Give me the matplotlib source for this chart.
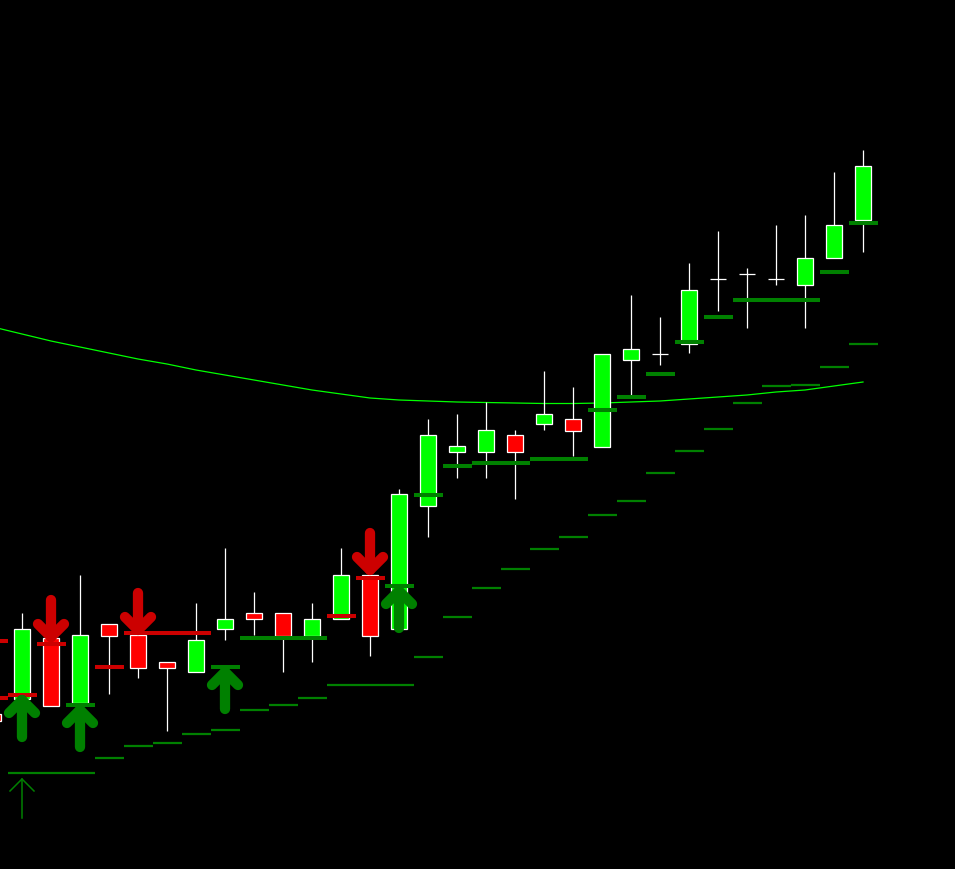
import matplotlib
matplotlib.use("Agg")
import matplotlib.pyplot as plt
from matplotlib.patches import Rectangle

# bar index -1 is the partly visible candle at the left edge
bars = list(range(-1, 30))
opens = [286, 301, 362, 297, 376, 365, 338, 328, 371, 387, 387, 364, 381, 425, 371,
         494, 548, 548, 565, 576, 581, 553, 640, 646, 656, 721, 726, 721, 715, 742, 780]
highs = [286, 387, 362, 425, 376, 365, 338, 397, 452, 408, 387, 397, 452, 425, 511,
         581, 586, 598, 570, 629, 613, 646, 705, 683, 737, 769, 732, 775, 785, 828, 850]
lows = [279, 301, 294, 297, 306, 322, 269, 328, 360, 365, 328, 338, 381, 344, 371,
        463, 522, 522, 501, 570, 544, 553, 605, 635, 647, 689, 672, 715, 672, 742, 748]
closes = [279, 371, 294, 365, 364, 332, 332, 360, 381, 381, 364, 381, 425, 364, 506,
          565, 554, 570, 548, 586, 569, 646, 651, 646, 710, 721, 726, 721, 742, 775, 834]

# moving average, one value per bar (starts one bar before the screen)
ma_bars = list(range(-2, 30))
ma_values = [679, 673, 666, 659, 653, 647, 641, 636, 630, 625, 620, 615, 610, 606, 602,
             600, 599, 598, 597.5, 597, 596.5, 596.5, 597, 598, 599, 601, 603, 605, 608,
             610, 614, 618]

# resistance (red) and support (green) levels
red_level_bars = [-1, -1, 0, 1, 3, 4, 5, 6, 11, 12]
red_level_values = [359, 302, 305, 356, 333, 367, 367, 367, 384, 422]
green_level_bars = [2, 7, 8, 9, 10, 13, 14, 15, 16, 17, 18, 19, 20, 21, 22, 23, 24,
                    25, 26, 27, 28, 29]
green_level_values = [295, 333, 362, 362, 362, 414, 505, 534, 537, 537, 541, 541, 590,
                      603, 626, 658, 683, 700, 700, 700, 728, 777]

# trailing stop line
stop_bars = list(range(0, 30))
stop_values = [227, 227, 227, 242, 254, 257, 266, 270, 290, 295, 302, 315, 315, 315,
               343, 383, 412, 431, 451, 463, 485, 499, 527, 549, 571, 597, 614, 615,
               633, 656]

# signal arrows (tip price)
buy_bars = [0, 2, 7, 13]
buy_tips = [305, 295, 333, 414]
sell_bars = [1, 4, 12]
sell_tips = [358, 365, 425]
marker_bar = 0
marker_tip = 221

BULL = "#00ff00"
BEAR = "#ff0000"
DKGREEN = "#008000"
DKRED = "#cc0000"
PX = 1 / 29  # one pixel in bar units

fig = plt.figure(figsize=(9.55, 8.69), dpi=100)
fig.patch.set_facecolor("black")
ax = fig.add_axes([0, 0, 1, 1])
ax.set_facecolor("black")
ax.set_xlim(-22 / 29, 933 / 29)
ax.set_ylim(131, 1000)
ax.axis("off")

ax.plot(ma_bars, ma_values, color=BULL, lw=0.9, zorder=1)

for i, o, h, l, c in zip(bars, opens, highs, lows, closes):
    ax.vlines(i, l, h, color="white", lw=0.9, zorder=2)
    if o == c:
        ax.hlines(o, i - 0.29, i + 0.29, color="white", lw=0.9, zorder=3)
    else:
        ax.add_patch(Rectangle((i - 0.27, min(o, c)), 0.54, abs(c - o),
                               facecolor=BULL if c > o else BEAR,
                               edgecolor="white", lw=0.9, zorder=3))

for i, v in zip(stop_bars, stop_values):
    ax.hlines(v, i - 0.5, i + 0.5, color=DKGREEN, lw=1.6, zorder=4)
for i, v in zip(red_level_bars, red_level_values):
    ax.hlines(v, i - 0.5, i + 0.5, color=DKRED, lw=2.9, zorder=4)
for i, v in zip(green_level_bars, green_level_values):
    ax.hlines(v, i - 0.5, i + 0.5, color=DKGREEN, lw=2.9, zorder=4)


def fat_arrow(i, tip, up, color):
    d = 1 if up else -1
    t = tip - 5 * d
    tail = tip - 42 * d
    kw = dict(color=color, lw=7.4, solid_capstyle="round",
              solid_joinstyle="round", zorder=5)
    ax.plot([i, i], [t, tail], **kw)
    ax.plot([i - 13 * PX, i, i + 13 * PX], [t - 13 * d, t, t - 13 * d], **kw)


for i, t in zip(buy_bars, buy_tips):
    fat_arrow(i, t, True, DKGREEN)
for i, t in zip(sell_bars, sell_tips):
    fat_arrow(i, t, False, DKRED)

# thin marker arrow under the first bar
ax.plot([marker_bar, marker_bar], [marker_tip, marker_tip - 39], color=DKGREEN, lw=1.1, zorder=5)
ax.plot([marker_bar - 12 * PX, marker_bar, marker_bar + 12 * PX],
        [marker_tip - 12, marker_tip, marker_tip - 12], color=DKGREEN, lw=1.1, zorder=5)

fig.savefig("out.png", dpi=100, facecolor="black")
